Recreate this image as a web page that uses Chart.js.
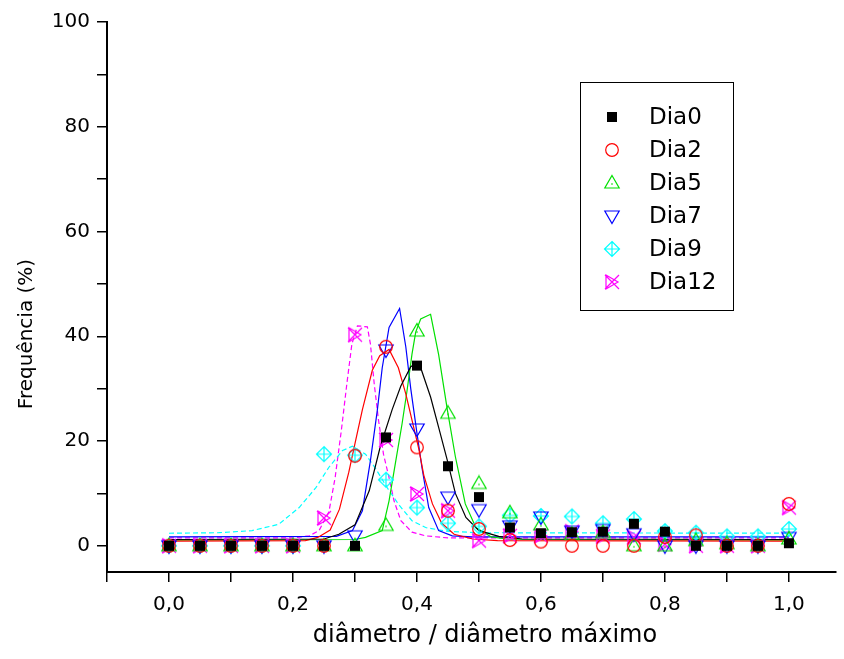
<!DOCTYPE html>
<html>
<head>
<meta charset="utf-8">
<script src="https://cdn.jsdelivr.net/npm/chart.js@4.4.1/dist/chart.umd.min.js"></script>
<style>
  html, body { margin: 0; padding: 0; background: #fff; }
  #c { display: block; }
</style>
</head>
<body>
<canvas id="c" width="844" height="659"></canvas>
<script>
// pontos medidos (x = diâmetro relativo)
const xPts = [0, 0.05, 0.1, 0.15, 0.2, 0.25, 0.3, 0.35, 0.4, 0.45, 0.5, 0.55, 0.6, 0.65, 0.7, 0.75, 0.8, 0.85, 0.9, 0.95, 1.0];
const dia0 = [0, 0, 0, 0, 0, 0, 0, 20.7, 34.4, 15.2, 9.3, 3.5, 2.4, 2.6, 2.7, 4.2, 2.7, 0, 0, 0, 0.5];
const dia2 = [0, 0, 0, 0, 0, 0, 17.2, 38.0, 18.8, 6.7, 3.2, 1.1, 0.8, 0, 0, 0, 1.7, 2.0, 0, 0, 8.0];
const dia5 = [0, 0, 0, 0, 0, 0, 0, 3.9, 41.0, 25.3, 11.9, 6.3, 4.0, 2.2, 2.5, 0, 0, 1.0, 0.4, 0, 1.3];
const dia7 = [0, 0, 0, 0, 0, 0, 1.9, 37.4, 22.3, 9.3, 6.9, 3.8, 5.5, 2.8, 3.1, 2.3, 0, 0, 0, 0, 1.6];
const dia9 = [0, 0, 0, 0, 0, 17.5, 17.3, 12.6, 7.3, 4.3, 3.7, 5.8, 5.7, 5.6, 4.3, 5.1, 2.8, 2.5, 1.8, 1.8, 3.2];
const dia12 = [0, 0, 0, 0, 0, 5.3, 40.3, 20.2, 9.9, 6.7, 1.0, 1.9, 1.9, 2.7, 1.8, 1.6, 0.3, 0, 0, 0, 7.3];

// curvas ajustadas
const fit0x = [0, 0.25, 0.274, 0.30, 0.323, 0.341, 0.36, 0.374, 0.39, 0.398, 0.406, 0.422, 0.435, 0.449, 0.462, 0.479, 0.50, 0.532, 0.57, 1.0];
const fit0y = [1.2, 1.3, 2.2, 4.0, 10.5, 19.0, 26.0, 30.5, 34.2, 34.8, 34.0, 28.4, 22.6, 16.3, 10.0, 5.4, 2.9, 1.8, 1.3, 1.2];
const fit2x = [0, 0.22, 0.24, 0.26, 0.275, 0.29, 0.30, 0.312, 0.328, 0.34, 0.355, 0.37, 0.382, 0.392, 0.403, 0.411, 0.425, 0.44, 0.46, 0.49, 0.53, 1.0];
const fit2y = [0.9, 1.0, 1.6, 3.0, 7.0, 14.0, 19.5, 26.0, 33.5, 36.3, 37.5, 34.0, 29.0, 24.0, 18.5, 13.5, 8.0, 4.3, 2.2, 1.3, 1.0, 0.9];
const fit5x = [0, 0.30, 0.317, 0.344, 0.355, 0.366, 0.376, 0.384, 0.392, 0.398, 0.406, 0.422, 0.435, 0.449, 0.462, 0.478, 0.495, 0.52, 0.55, 1.0];
const fit5y = [1.1, 1.2, 1.6, 2.9, 8.6, 16.3, 23.3, 29.6, 36.6, 40.8, 43.3, 44.2, 36.5, 26.0, 17.0, 8.0, 3.5, 1.7, 1.2, 1.1];
const fit7x = [0, 0.27, 0.296, 0.312, 0.325, 0.336, 0.344, 0.355, 0.372, 0.382, 0.39, 0.40, 0.408, 0.419, 0.435, 0.457, 0.49, 1.0];
const fit7y = [1.7, 1.8, 2.9, 6.7, 16.3, 25.8, 34.0, 41.7, 45.3, 38.0, 30.0, 21.5, 15.0, 7.3, 2.9, 1.9, 1.7, 1.7];
const fit9x = [0, 0.08, 0.134, 0.177, 0.21, 0.237, 0.258, 0.28, 0.296, 0.317, 0.333, 0.352, 0.371, 0.392, 0.414, 0.446, 0.5, 1.0];
const fit9y = [2.4, 2.5, 2.9, 4.1, 7.3, 11.1, 15.0, 18.2, 19.0, 17.5, 14.8, 11.1, 7.8, 4.8, 3.5, 2.8, 2.5, 2.4];
const fit12x = [0, 0.2, 0.226, 0.242, 0.258, 0.268, 0.278, 0.287, 0.295, 0.304, 0.32, 0.325, 0.331, 0.338, 0.346, 0.355, 0.363, 0.374, 0.392, 0.414, 0.45, 1.0];
const fit12y = [1.5, 1.5, 1.9, 2.9, 6.5, 13.0, 22.0, 31.0, 38.5, 42.0, 41.8, 38.5, 31.0, 24.0, 17.5, 13.0, 8.6, 4.8, 2.6, 1.9, 1.5, 1.5];

const seriesNames = ['Dia0', 'Dia2', 'Dia5', 'Dia7', 'Dia9', 'Dia12'];

const xTickVals = [-0.1, 0, 0.1, 0.2, 0.3, 0.4, 0.5, 0.6, 0.7, 0.8, 0.9, 1.0];
const xTickLabels = ['', '0,0', '', '0,2', '', '0,4', '', '0,6', '', '0,8', '', '1,0'];
const yTickVals = [0, 10, 20, 30, 40, 50, 60, 70, 80, 90, 100];
const yTickLabels = ['0', '', '20', '', '40', '', '60', '', '80', '', '100'];

const xTitle = 'diâmetro / diâmetro máximo';
const yTitle = 'Frequência (%)';

const FONT = "'DejaVu Sans', Arial, sans-serif";

// símbolos no estilo Origin
function marker(size, draw) {
  const cv = document.createElement('canvas');
  cv.width = size; cv.height = size;
  const g = cv.getContext('2d');
  g.translate(size / 2, size / 2);
  g.lineWidth = 1.2;
  draw(g);
  return cv;
}

const symbols = [
  marker(14, (g) => { g.fillStyle = '#000'; g.fillRect(-5, -5, 10, 10); }),
  marker(16, (g) => { g.strokeStyle = '#ff0000'; g.beginPath(); g.arc(0, 0, 6.3, 0, Math.PI * 2); g.stroke(); }),
  marker(18, (g) => {
    g.strokeStyle = '#00e000'; g.beginPath();
    g.moveTo(0, -7.5); g.lineTo(7.2, 5); g.lineTo(-7.2, 5); g.closePath(); g.stroke();
    g.fillStyle = '#00e000'; g.fillRect(-0.7, 0.3, 1.4, 1.4);
  }),
  marker(18, (g) => {
    g.strokeStyle = '#0000ff'; g.beginPath();
    g.moveTo(0, 7.5); g.lineTo(7.2, -5); g.lineTo(-7.2, -5); g.closePath(); g.stroke();
  }),
  marker(18, (g) => {
    g.strokeStyle = '#00ffff'; g.beginPath();
    g.moveTo(0, -7.5); g.lineTo(7.5, 0); g.lineTo(0, 7.5); g.lineTo(-7.5, 0); g.closePath();
    g.moveTo(0, -7.5); g.lineTo(0, 7.5); g.moveTo(-7.5, 0); g.lineTo(7.5, 0);
    g.stroke();
  }),
  marker(18, (g) => {
    g.strokeStyle = '#ff00ff'; g.beginPath();
    g.moveTo(-7, -7); g.lineTo(7, 7); g.moveTo(-7, 7); g.lineTo(7, -7);
    g.moveTo(-6, -7); g.lineTo(-6, 7); g.lineTo(6, 0); g.closePath();
    g.stroke();
  }),
];

const colors = ['#000000', '#ff0000', '#00e000', '#0000ff', '#00ffff', '#ff00ff'];
const ptData = [dia0, dia2, dia5, dia7, dia9, dia12];
const fits = [[fit0x, fit0y], [fit2x, fit2y], [fit5x, fit5y], [fit7x, fit7y], [fit9x, fit9y], [fit12x, fit12y]];
const dashed = [false, false, false, false, true, true];

const datasets = [];
fits.forEach(([fx, fy], i) => {
  datasets.push({
    label: seriesNames[i] + ' fit',
    data: fx.map((x, k) => ({ x, y: fy[k] })),
    showLine: true,
    borderColor: colors[i],
    borderWidth: 1.2,
    borderDash: dashed[i] ? [5, 3] : [],
    pointRadius: 0,
    tension: 0,
    order: 1,
  });
});
ptData.forEach((vals, i) => {
  datasets.push({
    label: seriesNames[i],
    data: xPts.map((x, k) => ({ x, y: vals[k] })),
    showLine: false,
    pointStyle: symbols[i],
    pointRadius: 7,
    order: 0,
  });
});

// legenda em caixa + títulos dos eixos (posição como no Origin)
const boxLegend = {
  id: 'boxLegend',
  afterDraw(chart) {
    const ctx = chart.ctx;
    ctx.save();
    ctx.strokeStyle = '#000';
    ctx.lineWidth = 1;
    ctx.strokeRect(580.5, 82.5, 153, 228);
    ctx.font = '23px ' + FONT;
    ctx.fillStyle = '#000';
    ctx.textBaseline = 'middle';
    seriesNames.forEach((name, i) => {
      const y = 117 + i * 33;
      const s = symbols[i];
      ctx.drawImage(s, 612 - s.width / 2, y - s.height / 2);
      ctx.fillText(name, 649, y + 1);
    });

    ctx.textAlign = 'center';
    ctx.font = '24px ' + FONT;
    ctx.fillText(xTitle, 485, 636);
    ctx.translate(27, 334);
    ctx.rotate(-Math.PI / 2);
    ctx.font = '20px ' + FONT;
    ctx.fillText(yTitle, 0, 0);
    ctx.restore();
  },
};

new Chart(document.getElementById('c'), {
  type: 'scatter',
  data: { datasets },
  plugins: [boxLegend],
  options: {
    responsive: false,
    animation: false,
    devicePixelRatio: 1,
    layout: { padding: { top: 22, right: 2, left: 0, bottom: 0 } },
    plugins: { legend: { display: false }, tooltip: { enabled: false } },
    scales: {
      x: {
        type: 'linear',
        min: -0.1,
        max: 1.076,
        afterBuildTicks: (s) => { s.ticks = xTickVals.map((v) => ({ value: v })); },
        afterFit: (s) => { s.height = 87; },
        ticks: {
          autoSkip: false,
          maxRotation: 0,
          padding: 11,
          color: '#000',
          font: { family: FONT, size: 20 },
          callback: (v, i) => xTickLabels[i],
        },
        grid: { drawOnChartArea: false, drawTicks: true, tickLength: 10, color: '#000', lineWidth: 1.5 },
        border: { display: true, color: '#000', width: 2 },
      },
      y: {
        type: 'linear',
        min: -5,
        max: 100,
        afterBuildTicks: (s) => { s.ticks = yTickVals.map((v) => ({ value: v })); },
        afterFit: (s) => { s.width = 107; },
        ticks: {
          autoSkip: false,
          padding: 7,
          color: '#000',
          font: { family: FONT, size: 20 },
          callback: (v, i) => yTickLabels[i],
        },
        grid: { drawOnChartArea: false, drawTicks: true, tickLength: 10, color: '#000', lineWidth: 1.5 },
        border: { display: true, color: '#000', width: 2 },
      },
    },
  },
});
</script>
</body>
</html>
